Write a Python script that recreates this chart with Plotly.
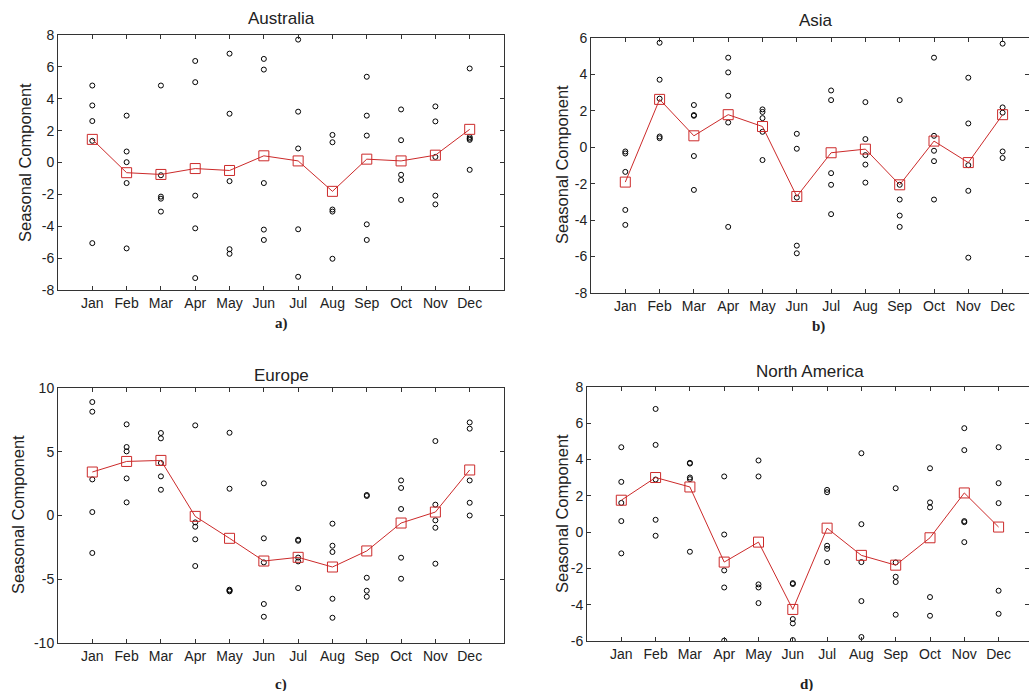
import plotly.graph_objects as go

months = ["Jan", "Feb", "Mar", "Apr", "May", "Jun", "Jul", "Aug", "Sep", "Oct", "Nov", "Dec"]

# Australia
aus_points = [
    [4.83, 3.58, 2.6, 1.36, -5.06],
    [2.94, 0.69, 0.02, -1.29, -5.39],
    [4.83, -0.8, -2.14, -2.27, -3.08],
    [6.37, 5.04, -2.08, -4.13, -7.25],
    [6.83, 3.06, -1.17, -5.44, -5.73],
    [6.5, 5.83, -1.29, -4.21, -4.86],
    [7.71, 3.19, 0.88, -4.19, -7.17],
    [1.73, 1.27, -2.95, -3.08, -6.04],
    [5.38, 2.94, 1.69, -3.88, -4.86],
    [3.33, 1.4, -0.77, -1.1, -2.35],
    [3.52, 2.58, 0.35, -2.08, -2.63],
    [5.9, 1.6, 1.5, 1.42, -0.46],
]
aus_mean = [1.45, -0.64, -0.75, -0.38, -0.5, 0.42, 0.1, -1.81, 0.21, 0.1, 0.46, 2.08]

# Asia
asia_points = [
    [-0.23, -0.34, -1.35, -3.44, -4.26],
    [5.74, 3.71, 2.67, 0.59, 0.5],
    [2.32, 1.77, 1.73, -0.48, -2.34],
    [4.92, 4.11, 2.83, 1.36, -4.37],
    [2.08, 1.94, 1.6, 0.85, -0.7],
    [0.74, -0.08, -2.76, -5.4, -5.82],
    [3.12, 2.59, -1.42, -2.06, -3.67],
    [2.48, 0.45, -0.43, -0.95, -1.94],
    [2.59, -2.06, -2.87, -3.75, -4.37],
    [4.92, 0.63, -0.19, -0.76, -2.87],
    [3.82, 1.31, -0.98, -2.39, -6.06],
    [5.69, 2.19, 1.9, -0.23, -0.59],
]
asia_mean = [-1.91, 2.63, 0.63, 1.79, 1.14, -2.7, -0.3, -0.1, -2.06, 0.34, -0.84, 1.79]

# Europe
eur_points = [
    [8.9, 8.14, 2.83, 0.27, -2.94],
    [7.15, 5.37, 5.03, 2.91, 1.03],
    [6.47, 6.05, 4.12, 3.07, 2.02],
    [7.07, -0.54, -0.88, -1.87, -3.96],
    [6.49, 2.1, -5.82, -5.88, -5.95],
    [2.52, -1.79, -3.68, -6.94, -7.94],
    [-1.9, -1.98, -3.3, -3.6, -5.69],
    [-0.64, -2.37, -2.86, -6.53, -8.02],
    [1.61, 1.53, -4.88, -5.9, -6.37],
    [2.75, 2.16, 0.51, -3.31, -4.96],
    [5.84, 0.85, -0.38, -0.96, -3.78],
    [7.3, 6.81, 2.75, 1.0, 0.0],
]
eur_mean = [3.41, 4.24, 4.32, -0.07, -1.79, -3.57, -3.28, -4.04, -2.78, -0.59, 0.27, 3.57]

# North America
na_points = [
    [4.68, 2.77, 1.61, 0.61, -1.17],
    [6.79, 4.81, 2.9, 0.68, -0.2],
    [3.82, 3.78, 3.01, 2.92, -1.08],
    [3.07, -0.13, -2.11, -3.05, -5.98],
    [3.95, 3.07, -2.88, -3.05, -3.91],
    [-2.81, -2.86, -4.79, -5.03, -5.95],
    [2.33, 2.2, -0.75, -0.92, -1.65],
    [4.35, 0.44, -1.65, -3.8, -5.78],
    [2.42, -1.67, -2.46, -2.75, -4.55],
    [3.52, 1.64, 1.36, -3.58, -4.61],
    [5.73, 4.52, 0.61, 0.55, -0.55],
    [4.68, 2.7, 1.6, -3.23, -4.5],
]
na_mean = [1.76, 3.01, 2.49, -1.65, -0.55, -4.26, 0.22, -1.28, -1.82, -0.31, 2.16, 0.28]

titles = ["Australia", "Asia", "Europe", "North America"]
letters = ["a)", "b)", "c)", "d)"]
y_ticks_a = [8, 6, 4, 2, 0, -2, -4, -6, -8]
y_ticks_b = [6, 4, 2, 0, -2, -4, -6, -8]
y_ticks_c = [10, 5, 0, -5, -10]
y_ticks_d = [8, 6, 4, 2, 0, -2, -4, -6]

W, H = 1029, 691
RED = "#cc2a2a"
FONT = "Liberation Sans, Arial, sans-serif"


def fx(px):
    return px / W


def fy(py):
    return 1 - py / H


# panel geometry in pixels: (left, right, top, bottom, xmax, ymin, ymax, ticks)
panels = [
    (58, 504, 35, 290, 13.0, -8, 8, y_ticks_a),
    (591, 1029, 38, 293, (1029 - 591) / 34.3, -8, 6, y_ticks_b),
    (58, 504, 388, 643, 13.0, -10, 10, y_ticks_c),
    (587, 1029, 387, 641, (1029 - 587) / 34.3, -6, 8, y_ticks_d),
]
datasets = [(aus_points, aus_mean), (asia_points, asia_mean),
            (eur_points, eur_mean), (na_points, na_mean)]

fig = go.Figure()
layout = {}
for i, ((pts, mean), (l, r, t, b, xmax, ymin, ymax, yt)) in enumerate(zip(datasets, panels)):
    n = "" if i == 0 else str(i + 1)
    xs, ys = [], []
    for m, vals in enumerate(pts):
        for v in vals:
            xs.append(m + 1)
            ys.append(v)
    fig.add_trace(go.Scatter(
        x=xs, y=ys, mode="markers", xaxis="x" + n, yaxis="y" + n,
        marker=dict(symbol="circle-open", size=5, color="black", line=dict(width=1)),
        showlegend=False, hoverinfo="skip"))
    fig.add_trace(go.Scatter(
        x=list(range(1, 13)), y=mean, mode="lines+markers", xaxis="x" + n, yaxis="y" + n,
        line=dict(color=RED, width=1),
        marker=dict(symbol="square-open", size=10, color=RED, line=dict(width=1)),
        showlegend=False))
    axstyle = dict(showline=True, linecolor="#333333", linewidth=1, mirror="ticks",
                   ticks="inside", ticklen=4, tickcolor="#333333", showgrid=False,
                   zeroline=False, automargin=False,
                   tickfont=dict(family=FONT, size=14, color="#222222"))
    layout["xaxis" + n] = dict(axstyle, domain=[fx(l), fx(r)], range=[0, xmax],
                               tickvals=list(range(1, 13)), ticktext=months,
                               anchor="y" + n)
    layout["yaxis" + n] = dict(axstyle, domain=[fy(b), fy(t)], range=[ymin, ymax],
                               tickvals=yt, ticktext=[str(v) for v in yt],
                               anchor="x" + n)

annotations = []
title_pos = [(281, 18), (816, 20), (281, 375), (810, 371)]
ylab_pos = [(25, 163), (562, 165), (18, 515), (562, 514)]
letter_pos = [(281, 323), (818, 326), (281, 684), (806, 684)]
for i in range(4):
    annotations.append(dict(text=titles[i], x=fx(title_pos[i][0]), y=fy(title_pos[i][1]),
                            xref="paper", yref="paper", showarrow=False,
                            xanchor="center", yanchor="middle",
                            font=dict(family=FONT, size=17, color="#222222")))
    annotations.append(dict(text="Seasonal Component", x=fx(ylab_pos[i][0]), y=fy(ylab_pos[i][1]),
                            xref="paper", yref="paper", showarrow=False, textangle=-90,
                            xanchor="center", yanchor="middle",
                            font=dict(family=FONT, size=16.5, color="#222222")))
    annotations.append(dict(text="<b>" + letters[i] + "</b>", x=fx(letter_pos[i][0]),
                            y=fy(letter_pos[i][1]),
                            xref="paper", yref="paper", showarrow=False,
                            xanchor="center", yanchor="middle",
                            font=dict(family="Liberation Serif, Times New Roman, serif",
                                      size=15, color="#222222")))

fig.update_layout(**layout)
fig.update_layout(width=W, height=H, margin=dict(l=0, r=0, t=0, b=0, autoexpand=False),
                  paper_bgcolor="white", plot_bgcolor="white",
                  annotations=annotations)
fig.write_html("out.html", config={"displayModeBar": False},
               post_script="document.body.style.margin='0';document.body.style.overflow='hidden';")
